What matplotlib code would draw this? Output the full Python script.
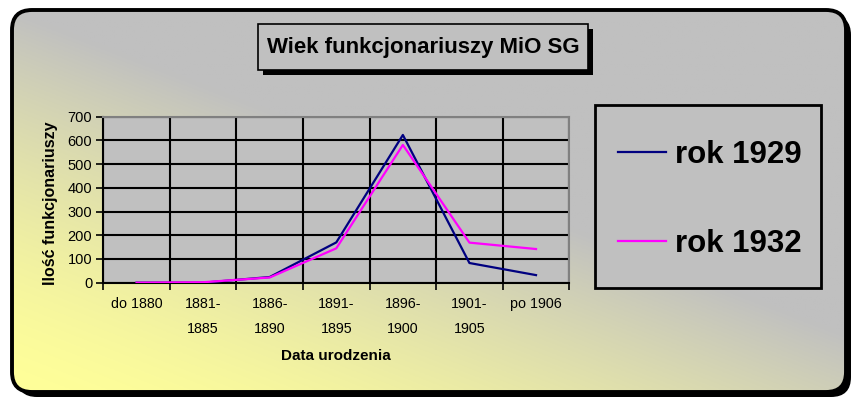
import numpy as np
import matplotlib
matplotlib.use('Agg')
import matplotlib.pyplot as plt
from matplotlib.patches import FancyBboxPatch, Rectangle
from matplotlib.ticker import FixedLocator

plt.rcParams['font.family'] = ['Liberation Sans', 'DejaVu Sans']

# ---- data ----
categories = ["do 1880", "1881-\n1885", "1886-\n1890", "1891-\n1895",
              "1896-\n1900", "1901-\n1905", "po 1906"]
rok_1929 = [0, 0, 24, 170, 623, 83, 32]
rok_1932 = [0, 2, 22, 145, 581, 169, 142]
series_names = ["rok 1929", "rok 1932"]
y_ticks = [0, 100, 200, 300, 400, 500, 600, 700]
title = "Wiek funkcjonariuszy MiO SG"
x_label = "Data urodzenia"
y_label = "Ilość funkcjonariuszy"

W, H = 856, 401
fig = plt.figure(figsize=(W / 100, H / 100), dpi=100, facecolor='white')

# ---- background frame ----
bg = fig.add_axes([0, 0, 1, 1], zorder=0)
bg.set_xlim(0, W)
bg.set_ylim(H, 0)
bg.axis('off')

fx0, fy0, fx1, fy1 = 12, 10, 846, 392
r = 20
shadow = FancyBboxPatch((fx0 + 5, fy0 + 5), fx1 - fx0, fy1 - fy0,
                        boxstyle=f"round,pad=0,rounding_size={r}",
                        fc='black', ec='black', lw=0)
bg.add_patch(shadow)
clip = FancyBboxPatch((fx0, fy0), fx1 - fx0, fy1 - fy0,
                      boxstyle=f"round,pad=0,rounding_size={r}",
                      fc='#c0c0c0', ec='none', lw=0)
bg.add_patch(clip)

ny, nx = 200, 420
u = np.linspace(0, 1, nx)[None, :]
v = np.linspace(1, 0, ny)[:, None]
t = np.clip(u * 0.85 + v, 0, 1) ** 1.5
yellow = np.array([255, 255, 153]) / 255
gray = np.array([192, 192, 192]) / 255
img = yellow[None, None, :] * (1 - t[..., None]) + gray[None, None, :] * t[..., None]
im = bg.imshow(img, extent=[fx0, fx1, fy1, fy0], aspect='auto', zorder=1)
im.set_clip_path(clip)
border = FancyBboxPatch((fx0, fy0), fx1 - fx0, fy1 - fy0,
                        boxstyle=f"round,pad=0,rounding_size={r}",
                        fc='none', ec='black', lw=2.8, zorder=3)
bg.add_patch(border)

# title box
tx, ty, tw, th = 258, 24, 330, 46
bg.add_patch(Rectangle((tx + 5, ty + 5), tw, th, fc='black', ec='none', zorder=4))
bg.add_patch(Rectangle((tx, ty), tw, th, fc='#c0c0c0', ec='black', lw=1.2, zorder=5))
bg.text(tx + tw / 2, ty + th / 2 + 1, title, ha='center', va='center',
        fontsize=16, fontweight='bold', zorder=6)

# legend box
lx, ly, lw_, lh = 595, 105, 226, 183
bg.add_patch(Rectangle((lx, ly), lw_, lh, fc='#c0c0c0', ec='black', lw=2, zorder=4))

# ---- main axes ----
ax = fig.add_axes([103.3 / W, 1 - 282.7 / H, 466 / W, 166 / H], zorder=2)
ax.set_facecolor('#c0c0c0')
x = np.arange(len(categories))
l1, = ax.plot(x, rok_1929, color='#000080', lw=1.6, zorder=3)
l2, = ax.plot(x, rok_1932, color='#ff00ff', lw=1.6, zorder=3)

ax.set_xlim(-0.5, len(categories) - 0.5)
ax.set_ylim(y_ticks[0], y_ticks[-1])
ax.set_xticks(x)
ax.set_xticklabels(categories, fontsize=10.3, linespacing=2.0)
ax.xaxis.set_minor_locator(FixedLocator(np.arange(-0.5, len(categories), 1.0)))
ax.tick_params(axis='x', which='major', length=0, pad=10)
ax.tick_params(axis='x', which='minor', length=5, width=1.2, direction='out', color='black')
ax.set_yticks(y_ticks)
ax.tick_params(axis='y', which='major', length=5, width=1.2, direction='out', pad=3, labelsize=10.5)
ax.set_axisbelow(True)
ax.grid(axis='y', which='major', color='black', lw=1.5)
ax.grid(axis='x', which='minor', color='black', lw=1.5)

for s in ('left', 'bottom'):
    ax.spines[s].set_color('black')
    ax.spines[s].set_linewidth(1.5)
for s in ('top', 'right'):
    ax.spines[s].set_color('#808080')
    ax.spines[s].set_linewidth(1.5)

ax.set_ylabel(y_label, fontsize=11.5, fontweight='bold')
ax.yaxis.set_label_coords(-0.098, 0.48)
ax.set_xlabel(x_label, fontsize=11, fontweight='bold')
ax.xaxis.set_label_coords(0.5, -0.40)

ax.legend([l1, l2], series_names, loc='center left',
          bbox_to_anchor=(618 / W, 1 - 199.5 / H), bbox_transform=fig.transFigure,
          frameon=False, prop=dict(weight='bold', size=22.5),
          handlelength=1.54, handletextpad=0.29, labelspacing=1.87,
          borderpad=0, borderaxespad=0)

fig.savefig('out.png', dpi=100, facecolor='white')
